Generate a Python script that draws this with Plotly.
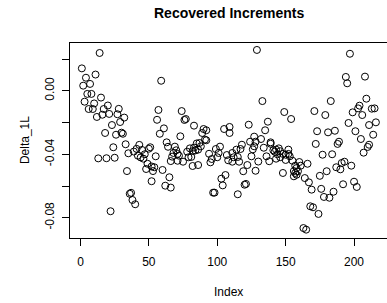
import plotly.graph_objects as go

# Index positions and recovered increments
index = [1, 2, 3, 4, 5, 6, 7, 8, 9, 10, 11, 12, 13, 14, 15, 16, 17, 18, 19, 20,
         21, 22, 23, 24, 25, 26, 27, 28, 29, 30, 31, 32, 33, 34, 35, 36, 37, 38, 39, 40,
         41, 42, 43, 44, 45, 46, 47, 48, 49, 50, 51, 52, 52, 53, 54, 55, 56, 57, 58, 59,
         60, 61, 62, 63, 64, 65, 66, 66, 67, 68, 69, 70, 71, 71, 72, 73, 74, 75, 76, 77,
         78, 79, 80, 81, 82, 82, 83, 83, 84, 85, 86, 86, 87, 88, 89, 90, 91, 92, 92, 94,
         95, 96, 97, 98, 99, 100, 101, 102, 103, 104, 105, 106, 107, 108, 109, 109, 111, 111, 112, 114,
         115, 115, 116, 117, 118, 119, 120, 121, 122, 123, 124, 125, 126, 127, 127, 128, 128, 129, 130, 132,
         133, 134, 135, 136, 137, 138, 139, 139, 141, 142, 143, 143, 144, 145, 146, 146, 148, 148, 149, 150,
         150, 152, 152, 153, 154, 155, 156, 156, 157, 157, 158, 158, 159, 160, 161, 163, 164, 165, 166, 167,
         168, 169, 170, 171, 172, 173, 174, 175, 176, 177, 178, 179, 180, 181, 182, 183, 184, 185, 186, 187,
         188, 189, 190, 191, 192, 193, 194, 195, 196, 197, 198, 199, 200, 201, 202, 203, 204, 205, 206, 207,
         208, 209, 210, 211, 211, 213, 214, 215, 216]

delta_1L = [0.0141, 0.0032, -0.0069, 0.0082, -0.0020, -0.0115, 0.0043, -0.0020, -0.0115, -0.0080,
            0.0102, -0.0165, -0.0426, 0.0238, -0.0043, -0.0151, -0.0115, -0.0266, -0.0425, -0.0093,
            -0.0146, -0.0759, -0.0216, -0.0356, -0.0422, -0.0277, -0.0148, -0.0114, -0.0197, -0.0264,
            -0.0271, -0.0169, -0.0337, -0.0506, -0.0394, -0.0649, -0.0643, -0.0688, -0.0383, -0.0715,
            -0.0366, -0.0409, -0.0341, -0.0420, -0.0373, -0.0428, -0.0400, -0.0493, -0.0460, -0.0365,
            -0.0356, -0.0477, -0.0570, -0.0506, -0.0482, -0.0413, -0.0183, -0.0121, -0.0271, 0.0063,
            -0.0499, -0.0237, -0.0598, -0.0325, -0.0353, -0.0545, -0.0610, -0.0443, -0.0415, -0.0392,
            -0.0352, -0.0375, -0.0441, -0.0398, -0.0409, -0.0287, -0.0128, -0.0447, -0.0184, -0.0178,
            -0.0384, -0.0419, -0.0363, -0.0417, -0.0380, -0.0474, -0.0220, -0.0358, -0.0376, -0.0332,
            -0.0468, -0.0371, -0.0329, -0.0350, -0.0266, -0.0241, -0.0308, -0.0312, -0.0249, -0.0397,
            -0.0451, -0.0430, -0.0642, -0.0642, -0.0367, -0.0419, -0.0392, -0.0352, -0.0554, -0.0596,
            -0.0241, -0.0531, -0.0405, -0.0438, -0.0266, -0.0228, -0.0392, -0.0447, -0.0419, -0.0371,
            -0.0417, -0.0652, -0.0447, -0.0367, -0.0340, -0.0507, -0.0592, -0.0587, -0.0468, -0.0214,
            -0.0321, -0.0413, -0.0369, -0.0289, -0.0350, -0.0321, -0.0504, 0.0257, -0.0446, -0.0304,
            -0.0065, -0.0359, -0.0249, -0.0413, -0.0195, -0.0444, -0.0334, -0.0325, -0.0375, -0.0384,
            -0.0428, -0.0371, -0.0400, -0.0363, -0.0381, -0.0419, -0.0398, -0.0518, -0.0134, -0.0403,
            -0.0436, -0.0398, -0.0371, -0.0413, -0.0178, -0.0441, -0.0506, -0.0539, -0.0472, -0.0518,
            -0.0529, -0.0487, -0.0507, -0.0449, -0.0472, -0.0865, -0.0550, -0.0875, -0.0460, -0.0577,
            -0.0728, -0.0623, -0.0734, -0.0128, -0.0335, -0.0255, -0.0776, -0.0536, -0.0618, -0.0403,
            -0.0669, -0.0153, -0.0507, -0.0262, -0.0674, -0.0065, -0.0400, -0.0636, -0.0252, -0.0482,
            -0.0335, -0.0321, -0.0495, -0.0455, -0.0589, -0.0447, 0.0087, 0.0047, -0.0203, 0.0233,
            -0.0472, -0.0136, -0.0573, -0.0255, -0.0606, -0.0111, -0.0094, -0.0304, -0.0153, -0.0390,
            0.0089, -0.0050, -0.0354, -0.0340, -0.0216, -0.0113, -0.0277, -0.0111, -0.0199]

x_ticks = [0, 50, 100, 150, 200]
x_tick_labels = ["0", "50", "100", "150", "200"]
y_ticks = [0.02, 0.0, -0.02, -0.04, -0.06, -0.08]
y_tick_labels = ["", "0.00", "", "-0.04", "", "-0.08"]

title_text = "Recovered Increments"
x_label = "Index"
y_label = "Delta_1L"

FONT = "Liberation Sans, Arial, Helvetica, sans-serif"

fig = go.Figure()
fig.add_trace(go.Scatter(
    x=index, y=delta_1L, mode="markers",
    marker=dict(symbol="circle-open", size=7, color="black", line=dict(width=1, color="black")),
    showlegend=False, hoverinfo="x+y",
))

W, H = 387, 303
L, R, T, B = 69.5, 0, 43, 65
pw = W - L - R
ph = H - T - B

fig.update_layout(
    width=W, height=H,
    margin=dict(l=L, r=R, t=T, b=B, pad=0),
    paper_bgcolor="white", plot_bgcolor="white",
    font=dict(family=FONT, size=12, color="black"),
    xaxis=dict(
        range=[-7.66, 224.1], showgrid=False, zeroline=False,
        showline=True, linecolor="black", linewidth=1, mirror=True,
        ticks="outside", ticklen=7, tickwidth=1, tickcolor="black",
        tickvals=x_ticks, ticktext=x_tick_labels,
        tickfont=dict(family=FONT, size=12, color="black"),
        ticklabelstandoff=6,
    ),
    yaxis=dict(
        range=[-0.09276, 0.03008], showgrid=False, zeroline=False,
        showline=True, linecolor="black", linewidth=1, mirror=False,
        ticks="outside", ticklen=7, tickwidth=1, tickcolor="black",
        tickvals=y_ticks, ticktext=y_tick_labels, tickangle=-90,
        tickfont=dict(family=FONT, size=12, color="black"),
        ticklabelstandoff=3,
    ),
    annotations=[
        dict(text="<b>" + title_text + "</b>", xref="paper", yref="paper",
             x=(228.5 - L) / pw, y=1 + (T - 13) / ph, xanchor="center", yanchor="middle",
             showarrow=False, font=dict(family=FONT, size=14, color="black")),
        dict(text=x_label, xref="paper", yref="paper",
             x=(228.5 - L) / pw, y=-(291.5 - (T + ph)) / ph, xanchor="center", yanchor="middle",
             showarrow=False, font=dict(family=FONT, size=12, color="black")),
        dict(text=y_label, xref="paper", yref="paper", textangle=-90,
             x=(24 - L) / pw, y=0.5, xanchor="center", yanchor="middle",
             showarrow=False, font=dict(family=FONT, size=12, color="black")),
    ],
)

fig.write_html("out.html", config={"displayModeBar": False},
               post_script="document.body.style.margin='0';document.body.style.padding='0';")
